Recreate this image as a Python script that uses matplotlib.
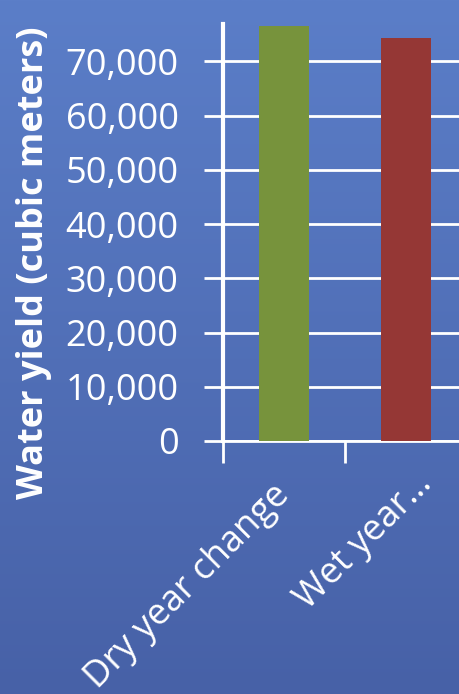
import matplotlib
matplotlib.use('Agg')
import matplotlib.pyplot as plt
import matplotlib.transforms as mtransforms
import numpy as np

categories = ['Dry year change', 'Wet year\u2026']
values = [76500, 74300]
colors = ['#77933c', '#953735']
yticks = [0, 10000, 20000, 30000, 40000, 50000, 60000, 70000]

plt.rcParams['font.family'] = ['Open Sans', 'DejaVu Sans']

fig = plt.figure(figsize=(4.6, 6.94), dpi=100)

# blue gradient background
bg = fig.add_axes([0, 0, 1, 1], zorder=-10)
grad = np.linspace(0, 1, 256).reshape(-1, 1)
cmap = matplotlib.colors.LinearSegmentedColormap.from_list('bg', ['#5b7ec8', '#4761a7'])
bg.imshow(grad, aspect='auto', cmap=cmap, extent=[0, 1, 0, 1])
bg.axis('off')

# axes: left 223px, right 467px, bottom y=441, top y=24
ax = fig.add_axes([223 / 460, (694 - 441) / 694, (467 - 223) / 460, (441 - 24) / 694])
ax.patch.set_alpha(0)
x = np.arange(len(categories))
ax.bar(x, values, width=0.41, color=colors, zorder=3)
ax.set_xlim(-0.5, 1.5)
ax.set_ylim(0, 76900)

ax.set_yticks(yticks)
ax.set_yticklabels([f'{v:,}' for v in yticks])
ax.set_xticks([-0.5, 0.5, 1.5], minor=False)
ax.set_xticklabels([])
ax.set_xticks(x, minor=True)
ax.set_xticklabels(categories, minor=True, rotation=45, ha='right',
                   rotation_mode='anchor', color='white', fontsize=26)
ax.tick_params(axis='x', which='minor', length=0, pad=22)
ax.tick_params(axis='x', which='major', length=16, width=2, color='white')
ax.tick_params(axis='y', length=14, width=2, color='white', labelcolor='white',
               labelsize=26, pad=18)

# nudge category labels (px)
nudges = [(-12, -6), (8, 6)]
for lab, (dx, dy) in zip(ax.get_xticklabels(minor=True), nudges):
    off = mtransforms.ScaledTranslation(dx / 100, dy / 100, fig.dpi_scale_trans)
    lab.set_transform(lab.get_transform() + off)

ax.grid(axis='y', color='white', linewidth=2, zorder=1)
for s in ['top', 'right']:
    ax.spines[s].set_visible(False)
ax.spines['left'].set_color('white')
ax.spines['left'].set_linewidth(3)
ax.spines['bottom'].set_color('white')
ax.spines['bottom'].set_linewidth(2)

fig.text(0.075, 0.622, 'Water yield (cubic meters)', rotation=90, color='white',
         fontsize=26, fontweight='bold', ha='center', va='center')

fig.savefig('out.png', dpi=100)
